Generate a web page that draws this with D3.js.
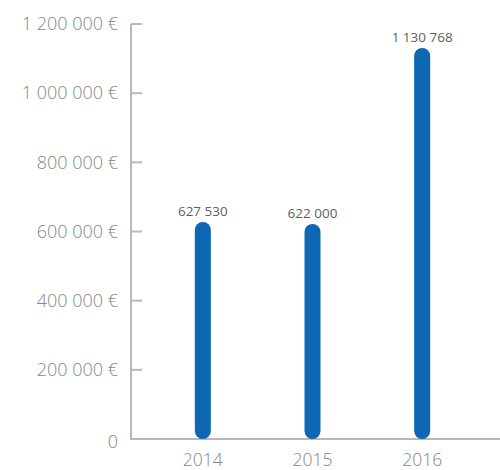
<!DOCTYPE html>
<html>
<head>
<meta charset="utf-8">
<script src="https://cdn.jsdelivr.net/npm/d3@7"></script>
<style>
  body { margin: 0; background: #fff; }
  svg { display: block; font-family: "Open Sans", sans-serif; }
</style>
</head>
<body>
<div id="chart"></div>
<script>
// data
const years = ["2014", "2015", "2016"];
const amounts = [627530, 622000, 1130768];
const yTicks = [0, 200000, 400000, 600000, 800000, 1000000, 1200000];

const width = 500;
const height = 470;
const margin = { top: 24, right: 0, bottom: 31, left: 131 };

const barColor = "#0d67b2";
const axisColor = "#b9b9b9";

const fr = d3.formatLocale({ decimal: ",", thousands: "\u00a0", grouping: [3], currency: ["", ""] });
const fmt = fr.format(",d");

const svg = d3.select("#chart")
  .append("svg")
  .attr("width", width)
  .attr("height", height);

const y = d3.scaleLinear()
  .domain([0, 1200000])
  .range([height - margin.bottom, margin.top]);

// band centres roughly at 204, 316, 422
const x = d3.scaleBand()
  .domain(years)
  .range([148, 477])
  .padding(0);

// y axis: line + small ticks pointing right
const yAxis = svg.append("g").attr("transform", `translate(${margin.left},0)`);
yAxis.append("line")
  .attr("y1", y(1200000)).attr("y2", y(0))
  .attr("stroke", axisColor).attr("stroke-width", 2);
yAxis.selectAll(".tick")
  .data(yTicks)
  .enter()
  .append("line")
  .attr("x1", 0).attr("x2", 11)
  .attr("y1", (d) => y(d)).attr("y2", (d) => y(d))
  .attr("stroke", axisColor).attr("stroke-width", 2);
yAxis.selectAll(".lbl")
  .data(yTicks)
  .enter()
  .append("text")
  .attr("x", -13)
  .attr("y", (d) => (d === 0 ? y(d) + 3 : y(d)))
  .attr("dy", "0.35em")
  .attr("text-anchor", "end")
  .style("font-size", "18px")
  .style("font-weight", 300)
  .style("fill", "#868686")
  .text((d) => (d === 0 ? "0" : fmt(d) + "\u00a0€"));

// x axis line
svg.append("line")
  .attr("x1", margin.left - 1).attr("x2", width)
  .attr("y1", y(0)).attr("y2", y(0))
  .attr("stroke", axisColor).attr("stroke-width", 2);

// bars, rounded like thick lines
const barW = 16;
svg.selectAll(".bar")
  .data(amounts)
  .enter()
  .append("rect")
  .attr("x", (d, i) => x(years[i]) + x.bandwidth() / 2 - barW / 2)
  .attr("y", (d) => y(d))
  .attr("width", barW)
  .attr("height", (d) => y(0) - y(d))
  .attr("rx", barW / 2)
  .style("fill", barColor);

// value labels
svg.selectAll(".val")
  .data(amounts)
  .enter()
  .append("text")
  .attr("x", (d, i) => x(years[i]) + x.bandwidth() / 2)
  .attr("y", (d) => y(d) - 6)
  .attr("text-anchor", "middle")
  .style("font-size", "13.5px")
  .style("fill", "#606060")
  .text((d) => fmt(d));

// year labels
svg.selectAll(".yr")
  .data(years)
  .enter()
  .append("text")
  .attr("x", (d) => x(d) + x.bandwidth() / 2)
  .attr("y", y(0) + 21)
  .attr("dy", "0.35em")
  .attr("text-anchor", "middle")
  .style("font-size", "17.5px")
  .style("font-weight", 300)
  .style("fill", "#868686")
  .text((d) => d);
</script>
</body>
</html>
